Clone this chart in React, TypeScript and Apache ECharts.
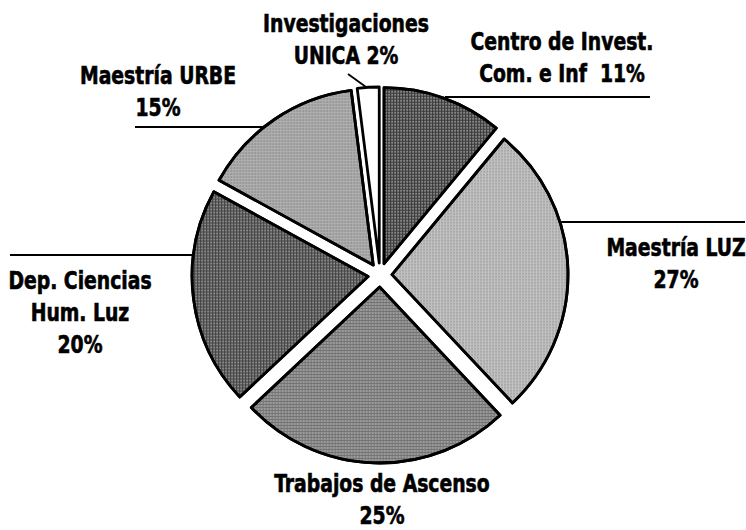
import React, { useEffect, useRef } from "react";
import * as echarts from "echarts";

// ---- data ----
const categories = [
  "Centro de Invest.\nCom. e Inf",
  "Maestría LUZ",
  "Trabajos de Ascenso",
  "Dep. Ciencias\nHum. Luz",
  "Maestría URBE",
  "Investigaciones\nUNICA",
];
const values = [11, 27, 25, 20, 15, 2];
const valueSeparators = ["  ", "\n", "\n", "\n", "\n", " "];

// ---- styles / layout ----
const fillColors = ["#3a3a3a", "#c2c2c2", "#747474", "#424242", "#b0b0b0", "#ffffff"];
const dotColors = [
  "rgba(255,255,255,0.5)",
  "rgba(90,90,90,0.35)",
  "rgba(255,255,255,0.4)",
  "rgba(255,255,255,0.5)",
  "rgba(80,80,80,0.35)",
  null,
];
const labelCenters = [
  [562, 57],
  [676, 263],
  [382, 499],
  [80, 312],
  [158, 91],
  [346, 39],
];
const leaderLines: (number[][] | null)[] = [
  [[445, 97], [650, 97]],
  [[560, 222], [745, 222]],
  null,
  [[194, 255], [10, 255]],
  [[266, 127], [135, 127]],
  [[366, 87], [348, 74]],
];
const FONT = "'DejaVu Sans Condensed', 'DejaVu Sans', sans-serif";

export default function App() {
  const ref = useRef<HTMLDivElement>(null);
  useEffect(() => {
    if (!ref.current) return;
    const chart = echarts.init(ref.current, undefined, { renderer: "svg" });
    const data = categories.map((name, i) => ({
      name,
      value: values[i],
      selected: true,
      itemStyle: {
        color: fillColors[i],
        decal: dotColors[i]
          ? {
              symbol: "circle",
              symbolSize: 0.9,
              color: dotColors[i],
              dashArrayX: [2, 1],
              dashArrayY: [2, 1],
              rotation: 0,
            }
          : "none",
      },
    }));
    const labelTexts = categories.map(
      (name, i) => `${name}${valueSeparators[i]}${values[i]}%`
    );
    const graphics: any[] = [];
    labelTexts.forEach((t, i) => {
      graphics.push({
        type: "text",
        x: labelCenters[i][0],
        y: labelCenters[i][1],
        scaleX: 0.87,
        silent: true,
        style: {
          text: t,
          fill: "#000",
          stroke: "#000",
          lineWidth: 0.6,
          font: `bold 24px ${FONT}`,
          align: "center",
          verticalAlign: "middle",
          lineHeight: 32,
        },
      });
      const pts = leaderLines[i];
      if (pts) {
        graphics.push({
          type: "line",
          silent: true,
          shape: { x1: pts[0][0], y1: pts[0][1], x2: pts[1][0], y2: pts[1][1] },
          style: { stroke: "#000", lineWidth: 1.8 },
        });
      }
    });
    chart.setOption({
      animation: false,
      backgroundColor: "#ffffff",
      graphic: graphics,
      series: [
        {
          type: "pie",
          center: [380, 275],
          radius: 176,
          startAngle: 90,
          clockwise: true,
          selectedMode: "multiple",
          selectedOffset: 12,
          silent: true,
          itemStyle: { borderColor: "#000", borderWidth: 2.8 },
          label: { show: false },
          labelLine: { show: false },
          data,
        },
      ],
    });
    return () => chart.dispose();
  }, []);
  return (
    <div
      ref={ref}
      style={{ position: "fixed", left: 0, top: 0, width: 746, height: 530, background: "#fff" }}
    />
  );
}
